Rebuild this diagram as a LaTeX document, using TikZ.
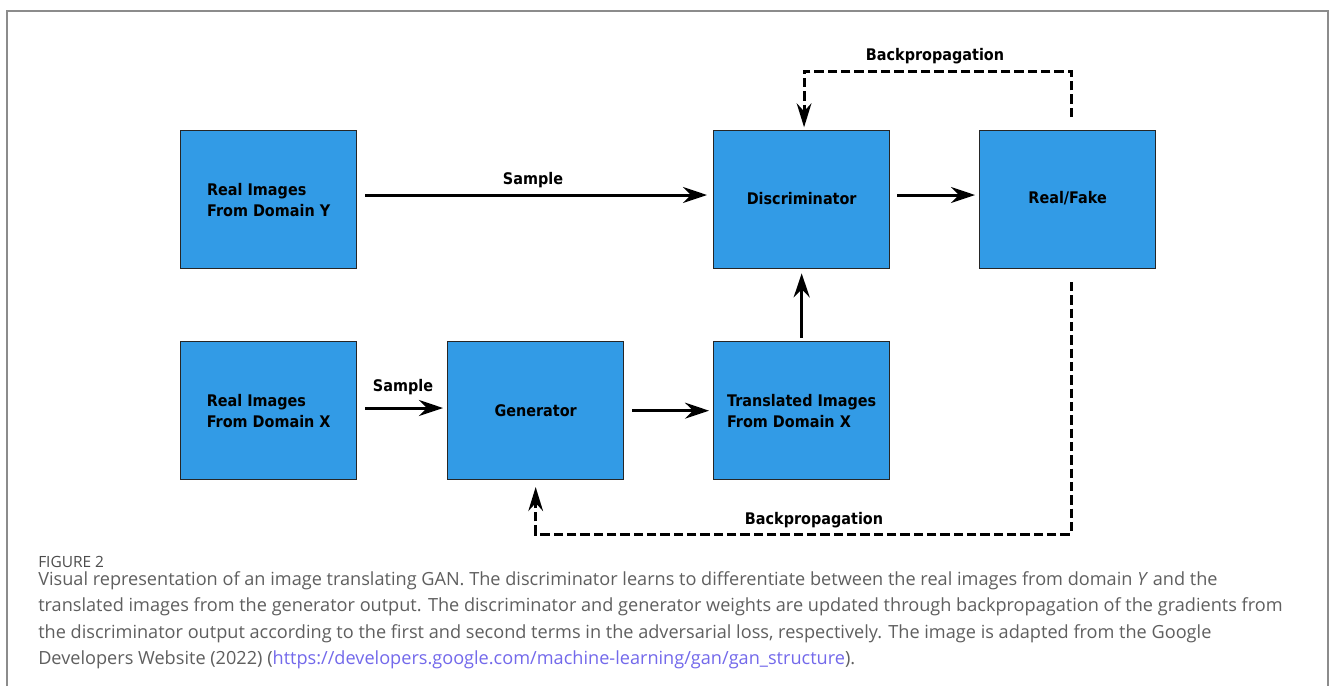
\documentclass[tikz,border=0pt]{standalone}
\usepackage{fontspec}
\setmainfont{Open Sans}
\newfontfamily\boxfont[FakeStretch=0.9]{DejaVu Sans}
\usetikzlibrary{arrows.meta}
\definecolor{boxblue}{RGB}{50,155,230}
\definecolor{capgray}{RGB}{95,95,95}
\definecolor{linkblue}{RGB}{115,105,235}
\definecolor{framegray}{RGB}{140,140,140}
\begin{document}
\begin{tikzpicture}[x=0.75pt,y=-0.75pt,
  blk/.style={draw=black!85, line width=1pt, fill=boxblue, minimum width=132pt, minimum height=103.5pt,
    inner sep=0pt, anchor=north west, align=left,
    font=\boxfont\bfseries\fontsize{12}{15.75}\selectfont},
  lbl/.style={inner sep=0pt, anchor=base, font=\boxfont\bfseries\fontsize{12}{15}\selectfont},
  arr/.style={line width=2.25pt, -{Stealth[length=18pt,width=12pt,inset=6pt]}},
  dsh/.style={line width=2.25pt, dash pattern=on 7pt off 3pt, -{Stealth[length=18pt,width=11pt,inset=6pt]}},
  captxt/.style={inner sep=0pt, anchor=base west, text=capgray, font=\fontsize{13.6}{16}\selectfont},
]
\useasboundingbox (0,0) rectangle (1330,686);
\fill[white] (0,0) rectangle (1330,686);
\draw[framegray, line width=1.1pt] (7,686) -- (7,11) -- (1328,11) -- (1328,686);

\node[blk] (ry)  at (180,130) {Real Images\\From Domain Y};
\node[blk] (dis) at (713,130) {\raisebox{2.5pt}{Discriminator}};
\node[blk] (rf)  at (979,130) {\raisebox{3pt}{Real/Fake}};
\node[blk] (rx)  at (180,341) {Real Images\\From Domain X};
\node[blk] (gen) at (447,341) {Generator};
\node[blk] (tr)  at (713,341) {Translated Images\\From Domain X};

\draw[arr, shorten <=6pt, shorten >=4.5pt] ([yshift=3.5pt]ry.east) -- ([yshift=3.5pt]dis.west);
\draw[arr, shorten <=5pt, shorten >=3pt] ([yshift=3.5pt]dis.east) -- ([yshift=3.5pt]rf.west);
\draw[arr, shorten <=6pt, shorten >=3pt] ([yshift=2pt]rx.east) -- ([yshift=2pt]gen.west);
\draw[arr, shorten <=6pt, shorten >=3pt] (gen.east) -- (tr.west);
\draw[arr, shorten <=2.5pt, shorten >=3pt] (tr.north) -- (dis.south);

\node[lbl] (s1) at (533,184) {Sample};
\node[lbl] (s2) at (403,391) {Sample};

\coordinate (rfup) at (1071,117);
\coordinate (bptop) at (1071,71);
\draw[dsh, shorten >=2pt] (rfup) -- (bptop) -| ([xshift=1.8pt]dis.north);
\node[lbl] (bp1) at (935,60) {Backpropagation};

\coordinate (rfdown) at (1071,282);
\coordinate (bpbot) at (1071,534);
\draw[dsh, shorten >=5pt] (rfdown) -- (bpbot) -| (gen.south);
\node[lbl] (bp2) at (814,524) {Backpropagation};

\node[captxt, text=black!70, font=\fontsize{11.6}{14}\selectfont] (fig) at (38,567) {FIGURE 2};
\node[captxt] (c1) at (38,585) {Visual representation of an image translating GAN. The discriminator learns to differentiate between the real images from domain \textit{Y} and the};
\node[captxt] (c2) at (38,611.5) {translated images from the generator output. The discriminator and generator weights are updated through backpropagation of the gradients from};
\node[captxt] (c3) at (38,638) {the discriminator output according to the first and second terms in the adversarial loss, respectively. The image is adapted from the Google};
\node[captxt] (c4) at (38,664.5) {Developers Website (2022) ({\color{linkblue}https://developers.google.com/machine-learning/gan/gan\_structure}).};
\end{tikzpicture}
\end{document}
